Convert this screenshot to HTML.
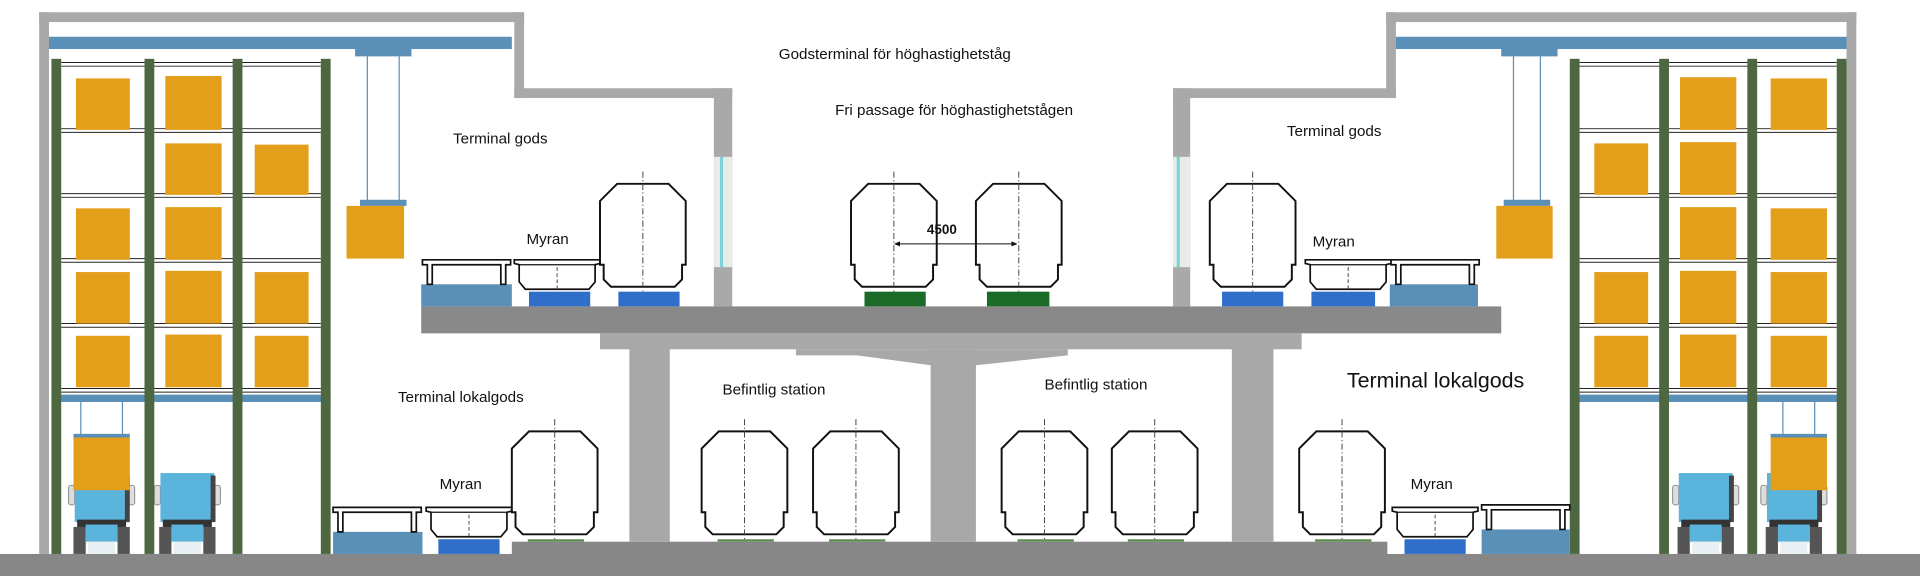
<!DOCTYPE html>
<html><head><meta charset="utf-8"><style>
html,body{margin:0;padding:0;background:#fff;width:1920px;height:576px;overflow:hidden}
svg{display:block}
text{font-family:"Liberation Sans",Arial,sans-serif;fill:#111}
</style></head><body>
<svg width="1920" height="576" viewBox="0 0 1568 470" preserveAspectRatio="none" xmlns="http://www.w3.org/2000/svg">
<defs>
<g id="train">
<path d="M14,0 L56,0 L70,14 L70,66 L67,66 L67,78 L61,84 L9,84 L3,78 L3,66 L0,66 L0,14 Z" fill="#fff" stroke="#111" stroke-width="1.6"/>
<line x1="35" y1="-10" x2="35" y2="90" stroke="#444" stroke-width="0.8" stroke-dasharray="5,2,1,2"/>
</g>
<g id="myran">
<path d="M0,0 L70,0 L70,3 L66,4 L66,18 L61,24 L9,24 L4,18 L4,4 L0,3 Z" fill="#fff" stroke="#111" stroke-width="1.4"/>
<line x1="4" y1="4" x2="66" y2="4" stroke="#111" stroke-width="1"/>
<line x1="35" y1="6" x2="35" y2="24" stroke="#444" stroke-width="0.8" stroke-dasharray="3,2"/>
</g>
<g id="table">
<path d="M0,0 L72,0 L72,4 L68,4 L68,20 L64,20 L64,4 L8,4 L8,20 L4,20 L4,4 L0,4 Z" fill="#fff" stroke="#111" stroke-width="1.4"/>
</g>
<g id="truck">
<rect x="-2" y="12" width="5" height="16" rx="2" fill="#ddd" stroke="#888" stroke-width="0.8"/>
<rect x="47" y="12" width="5" height="16" rx="2" fill="#ddd" stroke="#888" stroke-width="0.8"/>
<rect x="3" y="2" width="44" height="40" fill="#5ab4dc"/>
<rect x="44" y="4" width="4" height="38" fill="#444"/>
<rect x="5" y="40" width="40" height="6" fill="#333"/>
<rect x="2" y="46" width="10" height="22" fill="#555"/>
<rect x="38" y="46" width="10" height="22" fill="#555"/>
<rect x="12" y="44" width="26" height="14" fill="#5ab4dc"/>
<rect x="14" y="58" width="22" height="10" fill="#e8f0f4"/>
</g>
</defs>

<rect x="0" y="452" width="1568" height="18" fill="#878787"/>
<rect x="418" y="442" width="715" height="12" fill="#878787"/>

<rect x="32" y="10" width="8" height="442" fill="#a9a9a9"/>
<rect x="32" y="10" width="396" height="8" fill="#a9a9a9"/>
<rect x="420" y="10" width="8" height="70" fill="#a9a9a9"/>
<rect x="420" y="72" width="178" height="8" fill="#a9a9a9"/>
<rect x="583" y="72" width="15" height="178" fill="#a9a9a9"/>
<rect x="583" y="128" width="15" height="90" fill="#e8ece8"/>
<rect x="588" y="128" width="2.5" height="90" fill="#7dd3d8"/>
<rect x="1508" y="10" width="8" height="442" fill="#a9a9a9"/>
<rect x="1132" y="10" width="384" height="8" fill="#a9a9a9"/>
<rect x="1132" y="10" width="8" height="70" fill="#a9a9a9"/>
<rect x="958" y="72" width="182" height="8" fill="#a9a9a9"/>
<rect x="958" y="72" width="14" height="178" fill="#a9a9a9"/>
<rect x="958" y="128" width="14" height="90" fill="#e8ece8"/>
<rect x="961" y="128" width="2.5" height="90" fill="#7dd3d8"/>

<rect x="40" y="30" width="378" height="10" fill="#5a8fb8"/>
<rect x="1140" y="30" width="368" height="10" fill="#5a8fb8"/>

<g stroke="#222" stroke-width="0.8">
<line x1="50" y1="51" x2="262" y2="51"/><line x1="50" y1="54" x2="262" y2="54"/>
<line x1="50" y1="105" x2="262" y2="105"/><line x1="50" y1="108" x2="262" y2="108"/>
<line x1="50" y1="158" x2="262" y2="158"/><line x1="50" y1="161" x2="262" y2="161"/>
<line x1="50" y1="211" x2="262" y2="211"/><line x1="50" y1="214" x2="262" y2="214"/>
<line x1="50" y1="264" x2="262" y2="264"/><line x1="50" y1="267" x2="262" y2="267"/>
<line x1="50" y1="317" x2="262" y2="317"/><line x1="50" y1="320" x2="262" y2="320"/>
<line x1="1290" y1="51" x2="1500" y2="51"/><line x1="1290" y1="54" x2="1500" y2="54"/>
<line x1="1290" y1="105" x2="1500" y2="105"/><line x1="1290" y1="108" x2="1500" y2="108"/>
<line x1="1290" y1="158" x2="1500" y2="158"/><line x1="1290" y1="161" x2="1500" y2="161"/>
<line x1="1290" y1="211" x2="1500" y2="211"/><line x1="1290" y1="214" x2="1500" y2="214"/>
<line x1="1290" y1="264" x2="1500" y2="264"/><line x1="1290" y1="267" x2="1500" y2="267"/>
<line x1="1290" y1="317" x2="1500" y2="317"/><line x1="1290" y1="320" x2="1500" y2="320"/>
</g>
<rect x="46" y="322" width="224" height="6" fill="#5a8fb8"/>
<rect x="1284" y="322" width="222" height="6" fill="#5a8fb8"/>

<g fill="#e39e1a">
<rect x="62" y="64" width="44" height="42"/><rect x="135" y="62" width="46" height="44"/>
<rect x="135" y="117" width="46" height="42"/><rect x="208" y="118" width="44" height="41"/>
<rect x="62" y="170" width="44" height="42"/><rect x="135" y="169" width="46" height="43"/>
<rect x="62" y="222" width="44" height="42"/><rect x="135" y="221" width="46" height="43"/><rect x="208" y="222" width="44" height="42"/>
<rect x="62" y="274" width="44" height="42"/><rect x="135" y="273" width="46" height="43"/><rect x="208" y="274" width="44" height="42"/>
<rect x="1372" y="63" width="46" height="43"/><rect x="1446" y="64" width="46" height="42"/>
<rect x="1302" y="117" width="44" height="42"/><rect x="1372" y="116" width="46" height="43"/>
<rect x="1372" y="169" width="46" height="43"/><rect x="1446" y="170" width="46" height="42"/>
<rect x="1302" y="222" width="44" height="42"/><rect x="1372" y="221" width="46" height="43"/><rect x="1446" y="222" width="46" height="42"/>
<rect x="1302" y="274" width="44" height="42"/><rect x="1372" y="273" width="46" height="43"/><rect x="1446" y="274" width="46" height="42"/>
</g>

<rect x="290" y="40" width="46" height="6" fill="#5a8fb8"/>
<line x1="300" y1="46" x2="300" y2="165" stroke="#5a8fb8" stroke-width="1"/>
<line x1="326" y1="46" x2="326" y2="165" stroke="#5a8fb8" stroke-width="1"/>
<rect x="294" y="163" width="38" height="5" fill="#5a8fb8"/>
<rect x="283" y="168" width="47" height="43" fill="#e39e1a"/>
<rect x="1226" y="40" width="46" height="6" fill="#5a8fb8"/>
<line x1="1236" y1="46" x2="1236" y2="165" stroke="#5a8fb8" stroke-width="1"/>
<line x1="1258" y1="46" x2="1258" y2="165" stroke="#5a8fb8" stroke-width="1"/>
<rect x="1228" y="163" width="38" height="5" fill="#5a8fb8"/>
<rect x="1222" y="168" width="46" height="43" fill="#e39e1a"/>

<use href="#truck" x="58" y="384"/>
<use href="#truck" x="128" y="384"/>
<use href="#truck" x="1368" y="384"/>
<use href="#truck" x="1440" y="384"/>
<line x1="66" y1="328" x2="66" y2="356" stroke="#5a8fb8" stroke-width="1"/>
<line x1="100" y1="328" x2="100" y2="356" stroke="#5a8fb8" stroke-width="1"/>
<rect x="60" y="354" width="46" height="4" fill="#5a8fb8"/>
<rect x="60" y="357" width="46" height="43" fill="#e39e1a"/>
<line x1="1456" y1="328" x2="1456" y2="356" stroke="#5a8fb8" stroke-width="1"/>
<line x1="1482" y1="328" x2="1482" y2="356" stroke="#5a8fb8" stroke-width="1"/>
<rect x="1446" y="354" width="46" height="4" fill="#5a8fb8"/>
<rect x="1446" y="357" width="46" height="43" fill="#e39e1a"/>

<g fill="#4d6741">
<rect x="42" y="48" width="8" height="404"/><rect x="118" y="48" width="8" height="404"/>
<rect x="190" y="48" width="8" height="404"/><rect x="262" y="48" width="8" height="404"/>
<rect x="1282" y="48" width="8" height="404"/><rect x="1355" y="48" width="8" height="404"/>
<rect x="1427" y="48" width="8" height="404"/><rect x="1500" y="48" width="8" height="404"/>
</g>

<rect x="344" y="250" width="882" height="22" fill="#898989"/>
<rect x="490" y="272" width="573" height="13" fill="#a8a8a8"/>
<polygon points="650,285 872,285 872,290 797,298 760,298 700,290 650,290" fill="#a8a8a8"/>
<rect x="514" y="272" width="33" height="170" fill="#a8a8a8"/>
<rect x="760" y="285" width="37" height="157" fill="#a8a8a8"/>
<rect x="1006" y="272" width="34" height="170" fill="#a8a8a8"/>

<rect x="344" y="232" width="74" height="18" fill="#5a8fb8"/>
<use href="#table" x="345" y="212"/>
<use href="#myran" x="420" y="212"/>
<rect x="432" y="238" width="50" height="12" fill="#2f6fca"/>
<use href="#train" x="490" y="150"/>
<rect x="505" y="238" width="50" height="12" fill="#2f6fca"/>

<use href="#train" x="695" y="150"/>
<rect x="706" y="238" width="50" height="12" fill="#1b6a28"/>
<use href="#train" x="797" y="150"/>
<rect x="806" y="238" width="51" height="12" fill="#1b6a28"/>
<line x1="732" y1="199" x2="829" y2="199" stroke="#111" stroke-width="0.9"/>
<polygon points="730,199 735,197 735,201" fill="#111"/>
<polygon points="831,199 826,197 826,201" fill="#111"/>
<text x="757" y="191" font-size="11" font-weight="bold">4500</text>

<use href="#train" x="988" y="150"/>
<rect x="998" y="238" width="50" height="12" fill="#2f6fca"/>
<use href="#myran" x="1066" y="212"/>
<rect x="1071" y="238" width="52" height="12" fill="#2f6fca"/>
<rect x="1135" y="232" width="72" height="18" fill="#5a8fb8"/>
<use href="#table" x="1136" y="212"/>

<rect x="272" y="434" width="73" height="18" fill="#5a8fb8"/>
<use href="#table" x="272" y="414"/>
<use href="#myran" x="348" y="414"/>
<rect x="358" y="440" width="50" height="12" fill="#2f6fca"/>
<use href="#train" x="418" y="352"/>
<use href="#train" x="573" y="352"/>
<use href="#train" x="664" y="352"/>
<use href="#train" x="818" y="352"/>
<use href="#train" x="908" y="352"/>
<use href="#train" x="1061" y="352"/>
<g fill="#5f8f55">
<rect x="431" y="440" width="46" height="2"/><rect x="586" y="440" width="46" height="2"/>
<rect x="677" y="440" width="46" height="2"/><rect x="831" y="440" width="46" height="2"/>
<rect x="921" y="440" width="46" height="2"/><rect x="1074" y="440" width="46" height="2"/>
</g>
<use href="#myran" x="1137" y="414"/>
<rect x="1147" y="440" width="50" height="12" fill="#2f6fca"/>
<rect x="1210" y="432" width="72" height="20" fill="#5a8fb8"/>
<use href="#table" x="1210" y="412"/>

<text x="636" y="48" font-size="12.4">Godsterminal för höghastighetståg</text>
<text x="682" y="94" font-size="12.4">Fri passage för höghastighetstågen</text>
<text x="370" y="117" font-size="12.4">Terminal gods</text>
<text x="1051" y="111" font-size="12.4">Terminal gods</text>
<text x="430" y="199" font-size="12.4">Myran</text>
<text x="1072" y="201" font-size="12.4">Myran</text>
<text x="325" y="328" font-size="12.4">Terminal lokalgods</text>
<text x="590" y="322" font-size="12.4">Befintlig station</text>
<text x="853" y="318" font-size="12.4">Befintlig station</text>
<text x="1100" y="316" font-size="17.5">Terminal lokalgods</text>
<text x="359" y="399" font-size="12.4">Myran</text>
<text x="1152" y="399" font-size="12.4">Myran</text>
</svg>
</body></html>
